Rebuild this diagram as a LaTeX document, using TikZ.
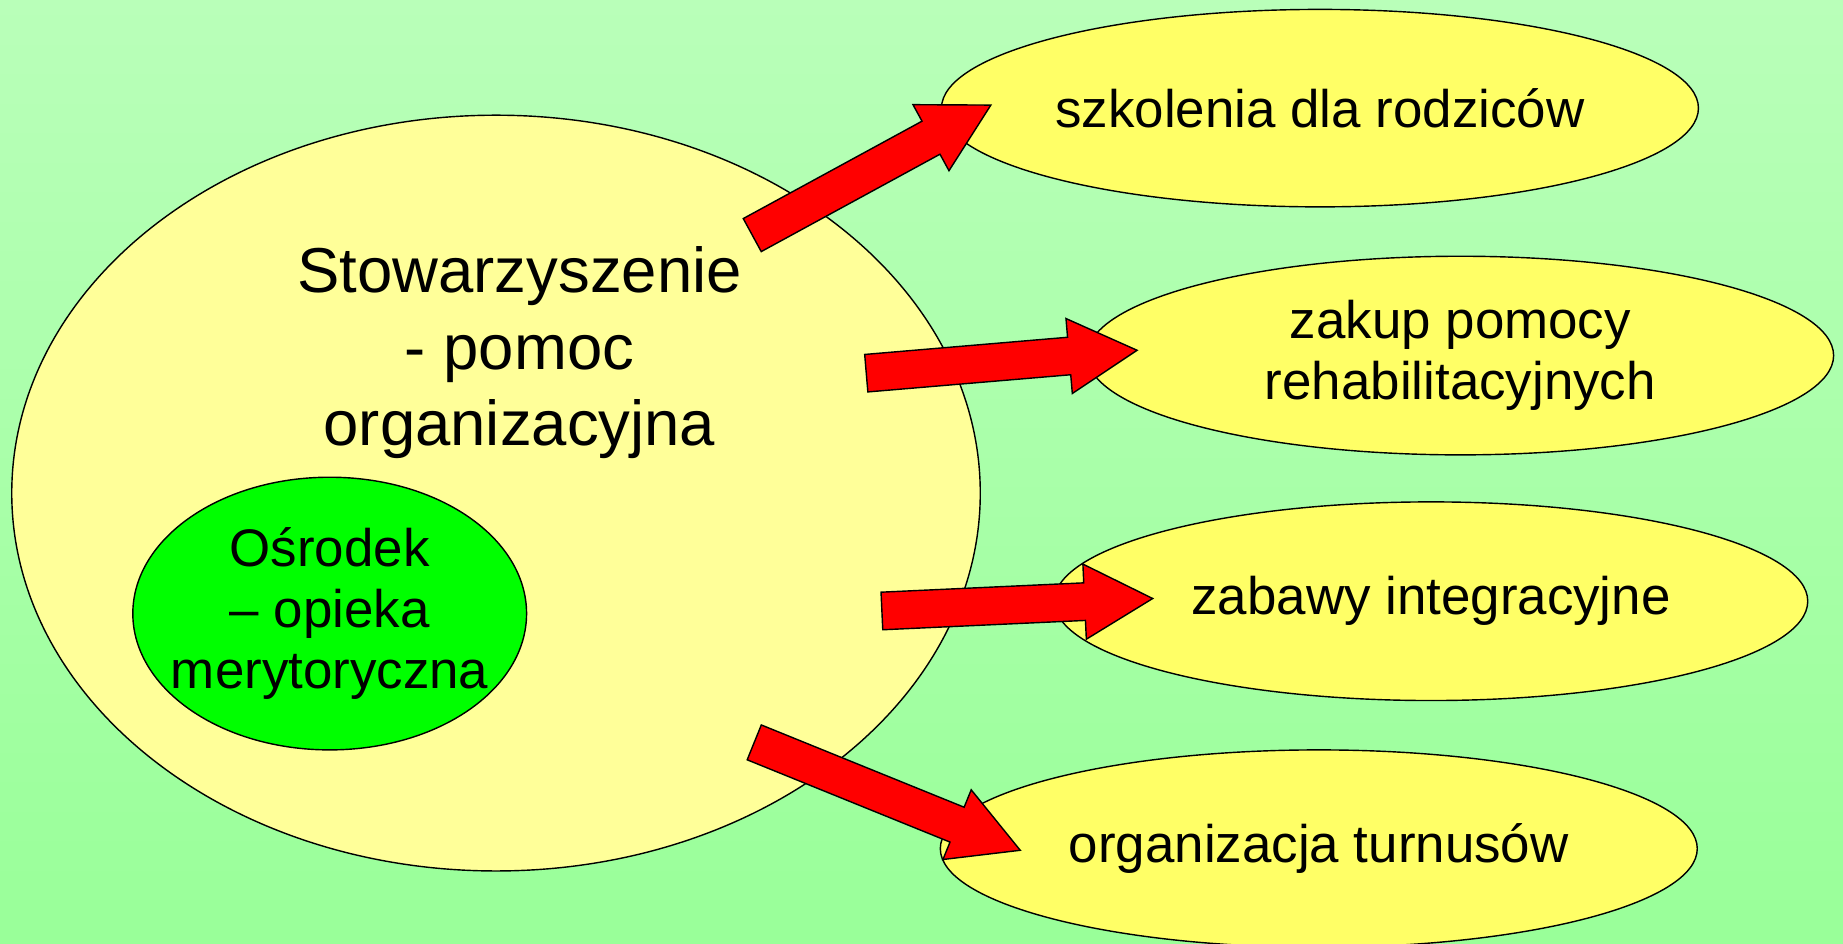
\documentclass[tikz,border=0pt]{standalone}
\usepackage{fontspec}
\setmainfont{Liberation Sans}
\usetikzlibrary{shapes.geometric,calc,positioning}

\definecolor{bgtop}{RGB}{185,255,185}
\definecolor{bgbottom}{RGB}{153,255,153}
\definecolor{paleyellow}{RGB}{255,255,153}
\definecolor{lightyellow}{RGB}{255,255,102}

\newcommand{\blockarrow}[2]{%
	\coordinate (h) at ($(#2)!58pt!(#1)$);
	\draw[bigarrow] ($(#1)!16pt!-90:(#2)$) -- ($(h)!16pt!-90:(#2)$) -- ($(h)!32pt!-90:(#2)$) -- (#2)
		-- ($(h)!32pt!90:(#2)$) -- ($(h)!16pt!90:(#2)$) -- ($(#1)!16pt!90:(#2)$) -- cycle;}

\begin{document}
\begin{tikzpicture}[x=1pt,y=-1pt,align=center,
		blob/.style={ellipse,draw,line width=1.2pt,inner sep=0pt},
		goal/.style={blob,fill=lightyellow,minimum width=644pt,minimum height=168pt,font=\fontsize{45pt}{52pt}\selectfont},
		bigtext/.style={font=\fontsize{54pt}{65pt}\selectfont},
		smalltext/.style={font=\fontsize{45pt}{52pt}\selectfont},
		bigarrow/.style={draw,fill=red,line width=1.2pt,line join=miter}]
		\useasboundingbox (0,0) rectangle (1568,803);
		\shade[top color=bgtop,bottom color=bgbottom] (0,0) rectangle (1568,803);
		\node[blob,fill=paleyellow,minimum width=824pt,minimum height=643pt] (stow) at (422,419.5) {};
		\node[bigtext] (stowtext) at (442,300) {Stowarzyszenie\\- pomoc\\organizacyjna};
		\node[blob,fill=green,minimum width=335pt,minimum height=232pt] (osr) at (280.5,522) {};
		\node[smalltext] (osrtext) at (osr) {Ośrodek\\– opieka\\merytoryczna};
		\node[goal] (szk) at (1123,92) {szkolenia dla rodziców};
		\node[goal,minimum width=635pt,minimum height=169pt] (zak) at (1242.5,302.5) {zakup pomocy\\rehabilitacyjnych};
		\node[goal,minimum width=641pt,minimum height=169pt] (zab) at (1217.5,511.5) {zabawy integracyjne};
		\node[goal] (tur) at (1122,722) {organizacja turnusów};
		\coordinate (a1s) at (640,200);
		\coordinate (a1e) at (843,89.4);
		\coordinate (a2s) at (737,317.5);
		\coordinate (a2e) at (967.4,298);
		\coordinate (a3s) at (750.3,519.8);
		\coordinate (a3e) at (980.7,509.2);
		\coordinate (a4s) at (641.7,631.6);
		\coordinate (a4e) at (868,723.4);
		\blockarrow{a1s}{a1e}
		\blockarrow{a2s}{a2e}
		\blockarrow{a3s}{a3e}
		\blockarrow{a4s}{a4e}
	\end{tikzpicture}
\end{document}
